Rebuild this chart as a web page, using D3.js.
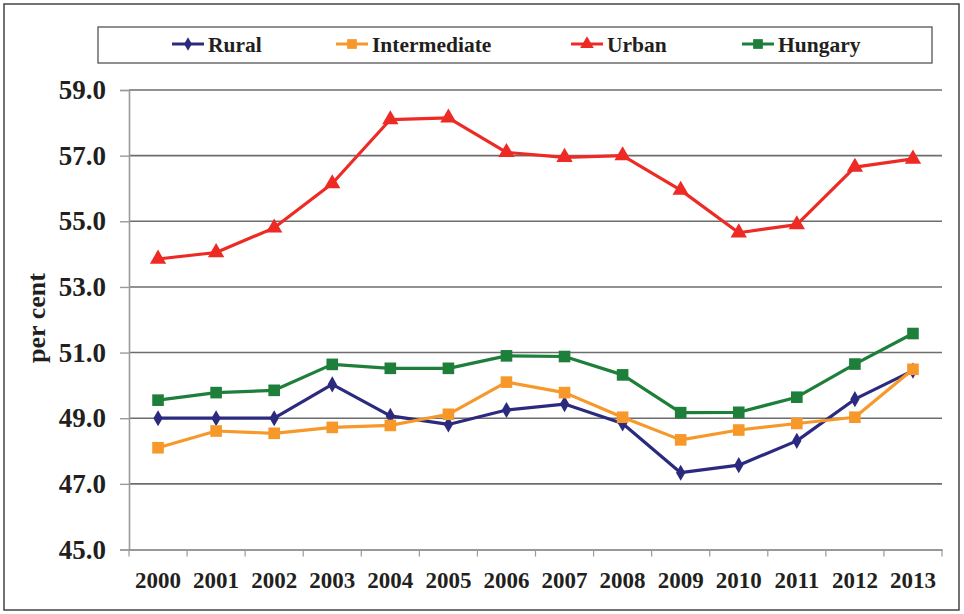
<!DOCTYPE html>
<html><head><meta charset="utf-8">
<script src="https://cdn.jsdelivr.net/npm/d3@7/dist/d3.min.js"></script>
<style>body{margin:0;background:#fff}svg{display:block}text{font-family:"Liberation Serif","Times New Roman",serif;font-weight:bold;fill:#231f20}</style>
</head><body>
<svg id="c" width="964" height="614"></svg>
<script>
const years = ["2000","2001","2002","2003","2004","2005","2006","2007","2008","2009","2010","2011","2012","2013"];
const rural        = [49.0,49.0,49.0,50.03,49.07,48.81,49.25,49.43,48.84,47.34,47.57,48.31,49.58,50.45];
const intermediate = [48.1,48.61,48.54,48.72,48.78,49.12,50.1,49.78,49.03,48.34,48.64,48.84,49.03,50.49];
const urban        = [53.85,54.05,54.8,56.15,58.1,58.15,57.1,56.95,57.0,55.95,54.65,54.9,56.65,56.9];
const hungary      = [49.55,49.78,49.85,50.64,50.52,50.52,50.9,50.88,50.32,49.17,49.18,49.64,50.65,51.58];
const yTicks = [45,47,49,51,53,55,57,59];
const seriesNames = ["Rural","Intermediate","Urban","Hungary"];

const series = [
  {name:seriesNames[0], values:rural, color:"#2b2a7f", shape:d3.symbolDiamond},
  {name:seriesNames[1], values:intermediate, color:"#f7982a", shape:d3.symbolSquare},
  {name:seriesNames[2], values:urban, color:"#ee2a24", shape:d3.symbolTriangle},
  {name:seriesNames[3], values:hungary, color:"#1e7f3b", shape:d3.symbolSquare}
];
const symSize = {"Rural":75,"Intermediate":135,"Urban":115,"Hungary":135};

const svg = d3.select("#c");
const L=129, R=942, T=90, B=549.5;
const x = d3.scaleBand().domain(years).range([L,R]);
const y = d3.scaleLinear().domain([45,59]).range([B,T]);

// outer frame
svg.append("rect").attr("x",4).attr("y",4).attr("width",955).attr("height",606)
  .attr("fill","none").attr("stroke","#444").attr("stroke-width",1.5);

// gridlines
svg.append("g").selectAll("line").data(yTicks.slice(1)).join("line")
  .attr("x1",L).attr("x2",R).attr("y1",d=>y(d)).attr("y2",d=>y(d))
  .attr("stroke","#6d6d6d").attr("stroke-width",1.6);

// y axis
const ya = svg.append("g").attr("transform",`translate(${L},0)`)
  .call(d3.axisLeft(y).tickValues(yTicks).tickFormat(d3.format(".1f")).tickSize(9).tickPadding(14));
ya.select(".domain").attr("stroke","#9a9a9a").attr("stroke-width",1.6);
ya.selectAll(".tick line").attr("stroke","#9a9a9a").attr("stroke-width",1.4);
ya.selectAll(".tick text").attr("font-size",27).attr("font-family","Liberation Serif").attr("font-weight","bold").attr("fill","#231f20");

// x axis
const xa = svg.append("g").attr("transform",`translate(0,${B})`)
  .call(d3.axisBottom(x).tickSize(0).tickPadding(22));
xa.select(".domain").attr("stroke","#777").attr("stroke-width",1.6);
xa.selectAll(".tick text").attr("font-size",23).attr("font-family","Liberation Serif").attr("font-weight","bold").attr("fill","#231f20");
// boundary ticks
const bounds = years.map(d=>x(d)).concat([R]);
svg.append("g").selectAll("line").data(bounds).join("line")
  .attr("x1",d=>d).attr("x2",d=>d).attr("y1",B).attr("y2",B+7)
  .attr("stroke","#999").attr("stroke-width",1.2);

// y title
svg.append("text").attr("transform","translate(45,318) rotate(-90)")
  .attr("text-anchor","middle").attr("font-size",26).text("per cent");

// lines
const cx = d=>x(d)+x.bandwidth()/2;
const line = d3.line().x((v,i)=>cx(years[i])).y(v=>y(v));
series.forEach(s=>{
  svg.append("path").attr("d",line(s.values)).attr("fill","none")
    .attr("stroke",s.color).attr("stroke-width",3.2).attr("stroke-linejoin","round");
});
series.forEach(s=>{
  svg.append("g").selectAll("path").data(s.values).join("path")
    .attr("d",d3.symbol().type(s.shape).size(symSize[s.name]))
    .attr("transform",(v,i)=>`translate(${cx(years[i])},${y(v)})`)
    .attr("fill",s.color);
});

// legend
svg.append("rect").attr("x",98).attr("y",27).attr("width",834).attr("height",36)
  .attr("fill","#fff").attr("stroke","#555").attr("stroke-width",1.3);
const legX = [172,336,571,742];
const lg = svg.append("g");
series.forEach((s,i)=>{
  const g = lg.append("g").attr("transform",`translate(${legX[i]},44)`);
  g.append("line").attr("x1",0).attr("x2",32).attr("stroke",s.color).attr("stroke-width",3);
  g.append("path").attr("d",d3.symbol().type(s.shape).size(symSize[s.name]*0.7)).attr("transform","translate(16,0)").attr("fill",s.color);
  g.append("text").attr("x",36).attr("y",7.5).attr("font-size",21.5).text(s.name);
});
</script>
</body></html>
